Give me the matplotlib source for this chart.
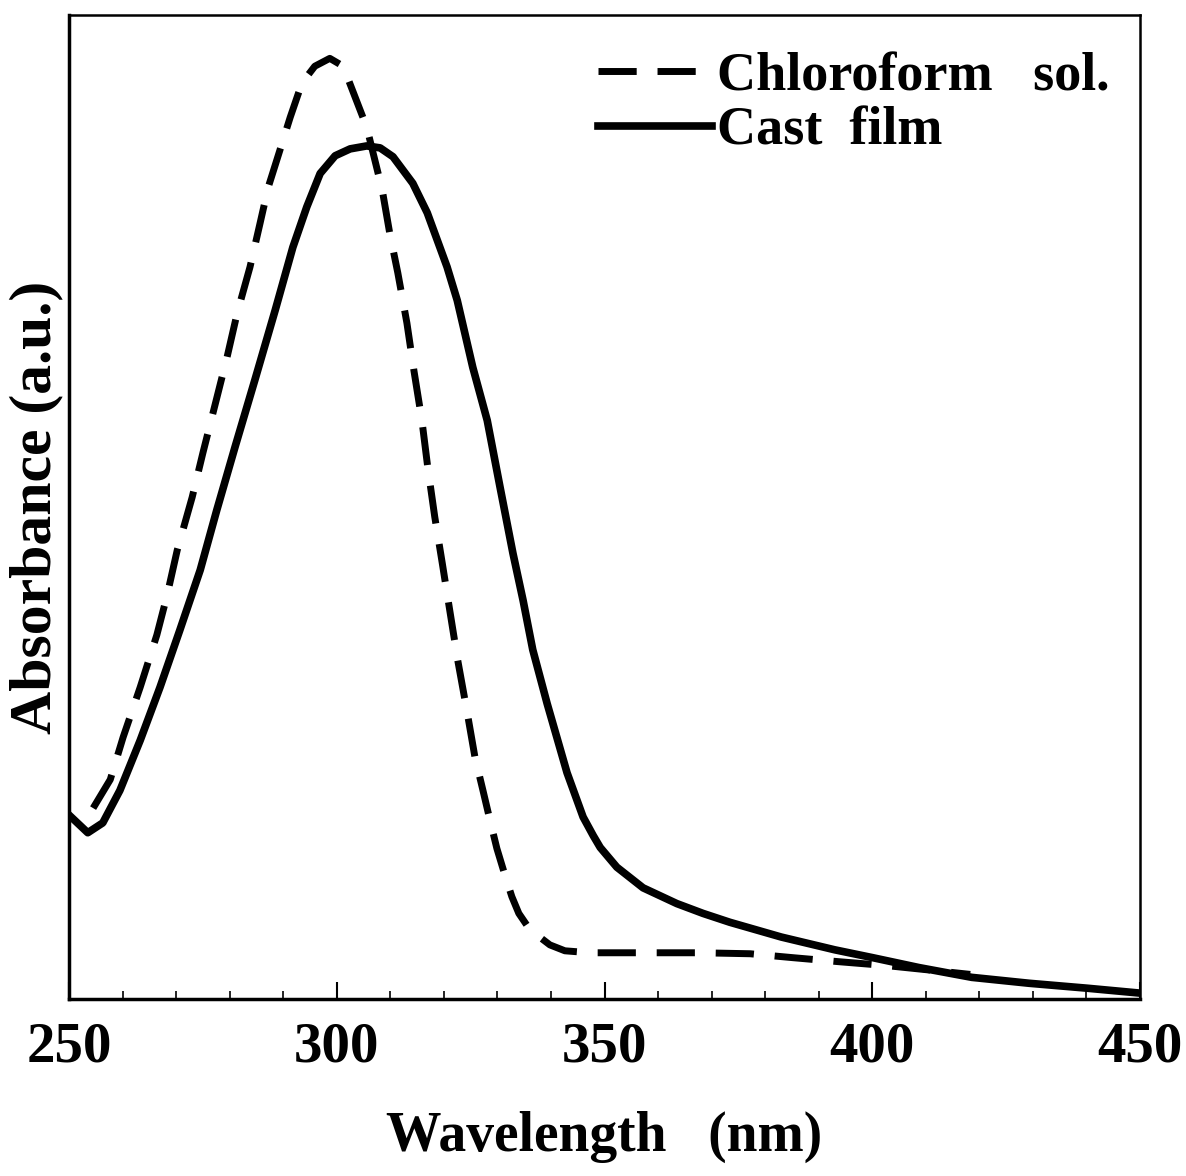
import numpy as np
import matplotlib
matplotlib.use("Agg")
import matplotlib.pyplot as plt
from matplotlib.ticker import MultipleLocator

# spectra (absorbance in arbitrary units, 0..1 = plot height)
wl_film = [250.0, 253.5, 256.3, 259.5, 263.3, 267.0, 270.7, 274.5, 277.6, 281.0,
           284.7, 288.5, 291.8, 294.4, 296.9, 299.7, 302.5, 305.6, 308.1, 310.5,
           314.2, 316.9, 320.6, 322.5, 325.4, 328.1, 330.5, 332.9, 334.8, 336.6,
           339.3, 343.0, 346.0, 347.9, 349.2, 352.3, 357.2, 363.5, 368.4, 373.4,
           383.0, 393.0, 400.1, 408.7, 418.6, 429.3, 440.1, 450.0]
abs_film = [0.187, 0.169, 0.179, 0.212, 0.263, 0.317, 0.375, 0.436, 0.497, 0.561,
            0.629, 0.700, 0.764, 0.805, 0.839, 0.857, 0.864, 0.867, 0.865, 0.856,
            0.829, 0.799, 0.744, 0.710, 0.642, 0.588, 0.520, 0.453, 0.405, 0.355,
            0.300, 0.230, 0.185, 0.166, 0.154, 0.134, 0.113, 0.097, 0.087, 0.078,
            0.063, 0.050, 0.042, 0.032, 0.022, 0.016, 0.011, 0.006]

wl_sol = [254.5, 257.7, 260.1, 263.3, 266.4, 268.3, 270.2, 273.0, 275.0, 277.6,
          279.5, 281.4, 283.8, 285.7, 287.2, 289.4, 291.3, 293.5, 295.9, 298.7,
          301.2, 303.4, 305.6, 308.5, 309.9, 311.4, 313.1, 314.4, 315.9, 317.0,
          318.3, 319.7, 321.1, 322.6, 324.3, 325.8, 327.3, 328.6, 329.9, 331.4,
          332.7, 334.0, 335.5, 337.4, 339.8, 342.6, 347.3, 356.6, 367.8, 377.2,
          385.2, 393.6, 402.6, 411.5, 418.3]
abs_sol = [0.194, 0.223, 0.266, 0.317, 0.370, 0.410, 0.456, 0.510, 0.555, 0.611,
           0.652, 0.697, 0.744, 0.789, 0.825, 0.863, 0.896, 0.931, 0.948, 0.956,
           0.948, 0.917, 0.886, 0.822, 0.778, 0.738, 0.687, 0.639, 0.588, 0.540,
           0.490, 0.443, 0.395, 0.344, 0.293, 0.246, 0.212, 0.182, 0.153, 0.126,
           0.104, 0.087, 0.075, 0.065, 0.055, 0.049, 0.047, 0.047, 0.047, 0.046,
           0.042, 0.038, 0.034, 0.029, 0.025]

xticks = [250, 300, 350, 400, 450]

plt.rcParams['font.family'] = ['Liberation Serif', 'DejaVu Serif']
plt.rcParams['font.weight'] = 'bold'

fig = plt.figure(figsize=(11.86, 11.76), dpi=100)
ax = fig.add_axes([0.0582, 0.1505, 0.903, 0.8367])

ax.plot(wl_sol, abs_sol, color='black', lw=5, dashes=(5.5, 3.0),
        dash_capstyle='butt', dash_joinstyle='round', label='Chloroform   sol.')
ax.plot(wl_film, abs_film, color='black', lw=5.5, solid_joinstyle='round',
        label='Cast  film')

ax.set_xlim(250, 450)
ax.set_ylim(0, 1)
ax.set_xticks(xticks)
ax.set_xticklabels([str(t) for t in xticks])
ax.xaxis.set_minor_locator(MultipleLocator(10))
ax.set_yticks([])
ax.tick_params(axis='x', which='major', direction='in', length=12, width=1.5,
               pad=16, labelsize=41, top=False)
ax.tick_params(axis='x', which='minor', direction='in', length=6, width=1.2, top=False)

for side in ['left', 'bottom']:
    ax.spines[side].set_linewidth(2.5)
for side in ['top', 'right']:
    ax.spines[side].set_linewidth(1.8)

ax.set_xlabel('Wavelength   (nm)', fontsize=40, fontweight='bold', labelpad=27)
ax.set_ylabel('Absorbance (a.u.)', fontsize=43, fontweight='bold', labelpad=4)

leg = ax.legend(loc='upper left', bbox_to_anchor=(0.494, 0.962), frameon=False,
                fontsize=39, handlelength=2.1, handletextpad=0.1,
                labelspacing=0.08, borderpad=0, borderaxespad=0)

fig.savefig('out.png', dpi=100)
